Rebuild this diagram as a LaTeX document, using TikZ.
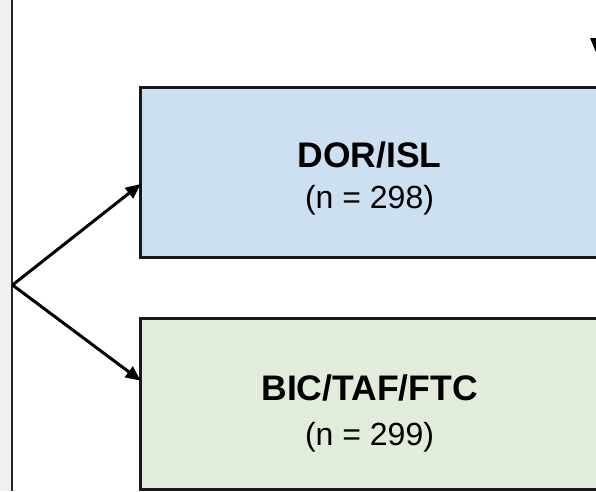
\documentclass[tikz,border=0pt]{standalone}
\usepackage{fontspec}
\setmainfont{Liberation Sans}
\usetikzlibrary{arrows.meta,calc}
\definecolor{armblue}{HTML}{CCE0F1}
\definecolor{armgreen}{HTML}{E2ECDA}
\definecolor{sidegray}{HTML}{F0F0F0}
\begin{document}
\begin{tikzpicture}[x=1pt,y=-1pt,
  armbox/.style={draw=black!90, line width=2.6pt, minimum width=457.6pt,
    minimum height=170.5pt, inner sep=0pt, outer sep=0pt},
  arr/.style={-{Triangle[length=15pt,width=13pt]}, line width=3pt},
  armtitle/.style={font=\fontsize{35.5}{40}\selectfont\bfseries, anchor=base, inner sep=0pt},
  armcount/.style={font=\fontsize{32}{38}\selectfont, anchor=base, inner sep=0pt}]
\useasboundingbox (0,0) rectangle (596,491);
\clip (0,0) rectangle (596,491);
% side panel and its rule
\fill[sidegray] (0,0) rectangle (11,491);
\draw[line width=2pt, black!85] (11.8,0) -- (11.8,491);
% the two arms
\node[armbox, fill=armblue] (dor) at (369.5,172.5) {};
\node[armbox, fill=armgreen] (bic) at (369.5,404) {};
\node[armtitle] (dortitle) at (369.5,167) {DOR/ISL};
\node[armcount] (dorn) at (369.5,208) {(n = 298)};
\node[armtitle] (bictitle) at (369.5,400) {BIC/TAF/FTC};
\node[armcount] (bicn) at (369.5,445) {(n = 299)};
% randomisation split
\coordinate (split) at (12.5,285);
\draw[arr] (split) -- ([yshift=-11.5pt]dor.west);
\draw[arr] (split) -- ([yshift=23.3pt]bic.west);
% incoming arrowhead at the top edge
\fill (590,38) -- (606,38) -- (598,57) -- cycle;
\end{tikzpicture}
\end{document}
